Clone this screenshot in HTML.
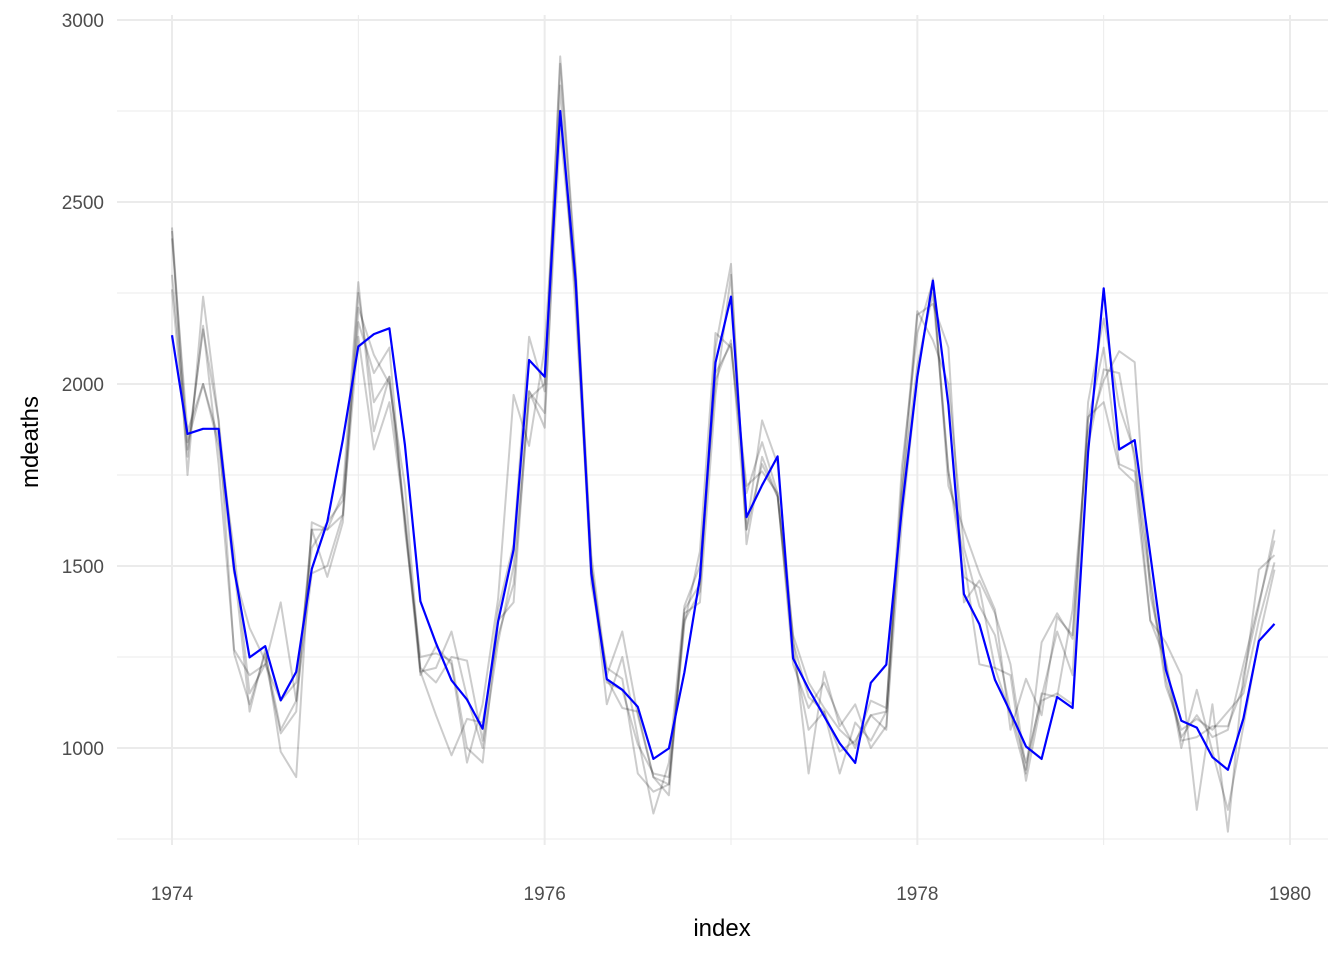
<!DOCTYPE html>
<html><head><meta charset="utf-8"><style>
html,body{margin:0;padding:0;background:#fff;}
svg text{font-family:"Liberation Sans",sans-serif;}
</style></head><body>
<svg id="chart" width="1344" height="960" viewBox="0 0 1344 960" xmlns="http://www.w3.org/2000/svg">
<g id="grid"></g>
<g id="series"></g>
<g id="axes"></g>
<text x="722" y="936" font-size="24" text-anchor="middle" fill="#000">index</text>
<text transform="translate(38,442) rotate(-90)" font-size="24" text-anchor="middle" fill="#000">mdeaths</text>
</svg>
<script>
const yTicks = [1000, 1500, 2000, 2500, 3000];
const yMinor = [750, 1250, 1750, 2250, 2750];
const xTicks = [1974, 1976, 1978, 1980];
const xMinor = [1975, 1977, 1979];
const startYear = 1974;
const mdeaths = [2134,1863,1877,1877,1492,1249,1280,1131,1209,1492,1621,1846,
2103,2137,2153,1833,1403,1288,1186,1133,1053,1347,1545,2066,
2020,2750,2283,1479,1189,1160,1113,970,999,1208,1467,2059,
2240,1634,1722,1801,1246,1162,1087,1013,959,1179,1229,1655,
2019,2284,1942,1423,1340,1187,1098,1004,970,1140,1110,1812,
2263,1820,1846,1531,1215,1075,1056,975,940,1081,1294,1341];
const sim1 = [2420,1750,2240,1900,1500,1100,1270,990,920,1620,1600,1640,2250,1950,2020,1640,1220,1180,1250,1240,1020,1380,1560,2130,1980,2900,2320,1500,1190,1110,1100,920,900,1350,1430,2100,2330,1560,1800,1690,1260,1050,1100,930,1070,1020,1100,1680,2190,2220,2100,1400,1460,1370,1230,940,1150,1140,1380,1870,2010,2090,2060,1420,1230,1000,1160,990,830,1060,1300,1490];
const sim2 = [2300,1840,2000,1850,1540,1150,1230,1130,1180,1550,1620,1680,2170,2030,2100,1600,1250,1260,1240,1000,960,1350,1400,1980,1920,2700,2260,1450,1220,1190,930,880,900,1340,1540,2140,2100,1700,1840,1700,1310,1180,1110,1050,1010,1130,1110,1700,2050,2250,1760,1520,1230,1220,1090,930,1290,1370,1300,1900,2100,1780,1760,1450,1170,1050,1080,1050,1100,1150,1350,1510];
const sim3 = [2260,1800,2160,1780,1270,1200,1230,1400,1130,1480,1500,1640,2130,1820,1950,1630,1210,1220,1320,1140,1000,1290,1500,1980,1880,2820,2200,1500,1120,1250,1030,820,960,1390,1500,2010,2120,1600,1900,1780,1300,930,1210,1060,1120,1000,1060,1620,2020,2290,1720,1600,1480,1380,1050,1190,1090,1360,1310,1910,1950,1770,1730,1350,1290,1200,830,1120,770,1200,1390,1600];
const sim4 = [2430,1820,2150,1900,1260,1120,1260,1050,1130,1600,1600,1700,2280,1870,2020,1620,1200,1280,1230,960,1120,1410,1970,1830,2100,2750,2250,1500,1180,1160,1010,930,920,1370,1400,1970,2300,1600,1780,1690,1290,1140,1100,990,1020,1090,1100,1770,2140,2280,1760,1470,1440,1220,1200,910,1130,1150,1120,1830,2040,2030,1790,1350,1240,1020,1030,1060,1060,1170,1490,1530];
const sim5 = [2400,1870,2000,1830,1480,1330,1240,1040,1100,1600,1470,1620,2210,2080,2000,1720,1210,1090,980,1080,1070,1310,1450,1960,2000,2880,2300,1530,1200,1320,1090,920,870,1380,1450,2030,2110,1720,1760,1700,1230,1110,1180,1080,1000,1090,1050,1730,2200,2120,2000,1550,1390,1310,1100,960,1140,1320,1200,1950,2180,1940,1810,1470,1190,1030,1090,1030,1050,1230,1400,1570];

const NS="http://www.w3.org/2000/svg";
function xs(v){return 172+(v-1974)*(1290-172)/6;}
function ys(v){return 748-(v-1000)*(748-20)/2000;}
const PL=117,PR=1328,PT=15,PB=845;
const grid=document.getElementById('grid'),series=document.getElementById('series'),axes=document.getElementById('axes');
function mk(tag,attrs,parent){const e=document.createElementNS(NS,tag);for(const k in attrs)e.setAttribute(k,attrs[k]);parent.appendChild(e);return e;}
yMinor.forEach(v=>{const l=mk('line',{x1:PL,x2:PR,y1:ys(v),y2:ys(v),stroke:'#ebebeb','stroke-width':1},grid);

});
xMinor.forEach(v=>{const l=mk('line',{x1:xs(v),x2:xs(v),y1:PT,y2:PB,stroke:'#ebebeb','stroke-width':1},grid);

});
yTicks.forEach(v=>{const l=mk('line',{x1:PL,x2:PR,y1:ys(v),y2:ys(v),stroke:'#ebebeb','stroke-width':2},grid);


const t=mk('text',{x:104,y:ys(v)+7,'font-size':19,'text-anchor':'end',fill:'#4d4d4d'},axes);t.textContent=v;

});
xTicks.forEach(v=>{const l=mk('line',{x1:xs(v),x2:xs(v),y1:PT,y2:PB,stroke:'#ebebeb','stroke-width':2},grid);


const t=mk('text',{x:xs(v),y:900,'font-size':19,'text-anchor':'middle',fill:'#4d4d4d'},axes);t.textContent=v;

});
function pts(arr){return arr.map((v,i)=>xs(startYear+i/12).toFixed(1)+','+ys(v).toFixed(1)).join(' ');}
[sim1,sim2,sim3,sim4,sim5].forEach((s,i)=>{const p=mk('polyline',{points:pts(s),fill:'none',stroke:'#000','stroke-opacity':0.2,'stroke-width':2,'stroke-linejoin':'round'},series);

});
const b=mk('polyline',{points:pts(mdeaths),fill:'none',stroke:'#0000ff','stroke-width':2.2,'stroke-linejoin':'round'},series);


</script>
</body></html>
